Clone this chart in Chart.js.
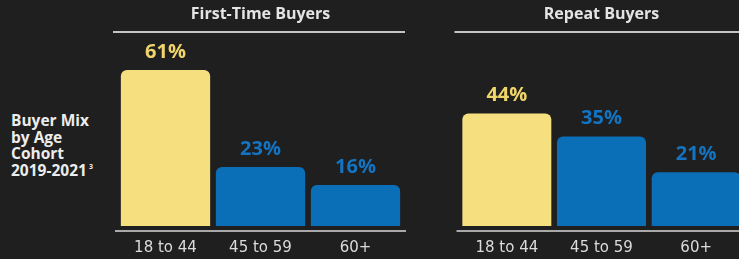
<!DOCTYPE html>
<html>
<head>
<meta charset="utf-8">
<script src="https://cdn.jsdelivr.net/npm/chart.js@4/dist/chart.umd.min.js"></script>
<style>
  html, body { margin:0; padding:0; width:739px; height:259px; overflow:hidden; background:#1f1f1f; }
  #side { position:absolute; left:11px; top:112px; font-family:"Open Sans", sans-serif; font-weight:700; font-size:15.5px; line-height:16.5px; color:#ececec; }
  #side sup { font-size:7px; vertical-align:top; position:relative; top:-3px; margin-left:2px; }
  .wrap { position:absolute; top:0; width:320px; height:259px; }
</style>
</head>
<body>
<div id="side">Buyer Mix<br>by Age<br>Cohort<br>2019-2021<sup>3</sup></div>
<div class="wrap" style="left:100px"><canvas id="c1" width="320" height="259"></canvas></div>
<div class="wrap" style="left:440px"><canvas id="c2" width="320" height="259"></canvas></div>
<script>
const categories = ["18 to 44", "45 to 59", "60+"];
const firstTimeValues = [61, 23, 16];
const repeatValues = [44, 35, 21];
const panelTitles = ["First-Time Buyers", "Repeat Buyers"];

const YELLOW = "#F5DF7E";
const BLUE = "#0B6FB8";
const LABEL_YELLOW = "#F0D56B";
const LABEL_BLUE = "#1274C2";

const decor = {
  id: "decor",
  beforeDatasetsDraw(chart) {
    const { ctx, chartArea } = chart;
    ctx.save();
    ctx.strokeStyle = "#c4c4c4";
    ctx.lineWidth = 2;
    ctx.beginPath();
    ctx.moveTo(chartArea.left - 5, 32);
    ctx.lineTo(chartArea.right + 2, 32);
    ctx.stroke();
    ctx.strokeStyle = "#a9a9a9";
    ctx.beginPath();
    ctx.moveTo(chartArea.left - 3, chartArea.bottom);
    ctx.lineTo(chartArea.right + 3, chartArea.bottom);
    ctx.stroke();
    ctx.restore();
  },
  afterDatasetsDraw(chart) {
    const { ctx } = chart;
    const meta = chart.getDatasetMeta(0);
    const data = chart.data.datasets[0].data;
    ctx.save();
    ctx.font = "700 20px 'Open Sans', sans-serif";
    ctx.textAlign = "center";
    ctx.textBaseline = "middle";
    meta.data.forEach((bar, i) => {
      ctx.fillStyle = i === 0 ? LABEL_YELLOW : LABEL_BLUE;
      ctx.fillText(data[i] + "%", bar.x, bar.y - 18);
    });
    ctx.restore();
  }
};

function makeChart(id, title, values, padL, padR) {
  return new Chart(document.getElementById(id), {
    type: "bar",
    data: {
      labels: categories,
      datasets: [{
        data: values,
        backgroundColor: [YELLOW, BLUE, BLUE],
        borderRadius: 6,
        borderSkipped: "start",
        barPercentage: 0.94,
        categoryPercentage: 1
      }]
    },
    options: {
      responsive: false,
      animation: false,
      layout: { padding: { left: padL, right: padR, top: 0, bottom: 0 } },
      plugins: {
        legend: { display: false },
        tooltip: { enabled: false },
        title: {
          display: true,
          text: title,
          color: "#e4e4e4",
          font: { family: "'Open Sans', sans-serif", size: 16, weight: "bold", lineHeight: 1.2 },
          padding: { top: 5, bottom: 22.8 }
        }
      },
      scales: {
        y: { display: false, min: -2, max: 70 },
        x: {
          grid: { display: false, drawTicks: false },
          border: { display: false },
          ticks: {
            color: "#dcdcdc",
            font: { family: "'DejaVu Sans', sans-serif", size: 15, weight: "normal", lineHeight: 1.2 },
            padding: 8
          },
          afterFit(scale) { scale.height = 28; }
        }
      }
    },
    plugins: [decor]
  });
}

makeChart("c1", panelTitles[0], firstTimeValues, 18, 17);
makeChart("c2", panelTitles[1], repeatValues, 19.5, 16.5);
</script>
</body>
</html>
